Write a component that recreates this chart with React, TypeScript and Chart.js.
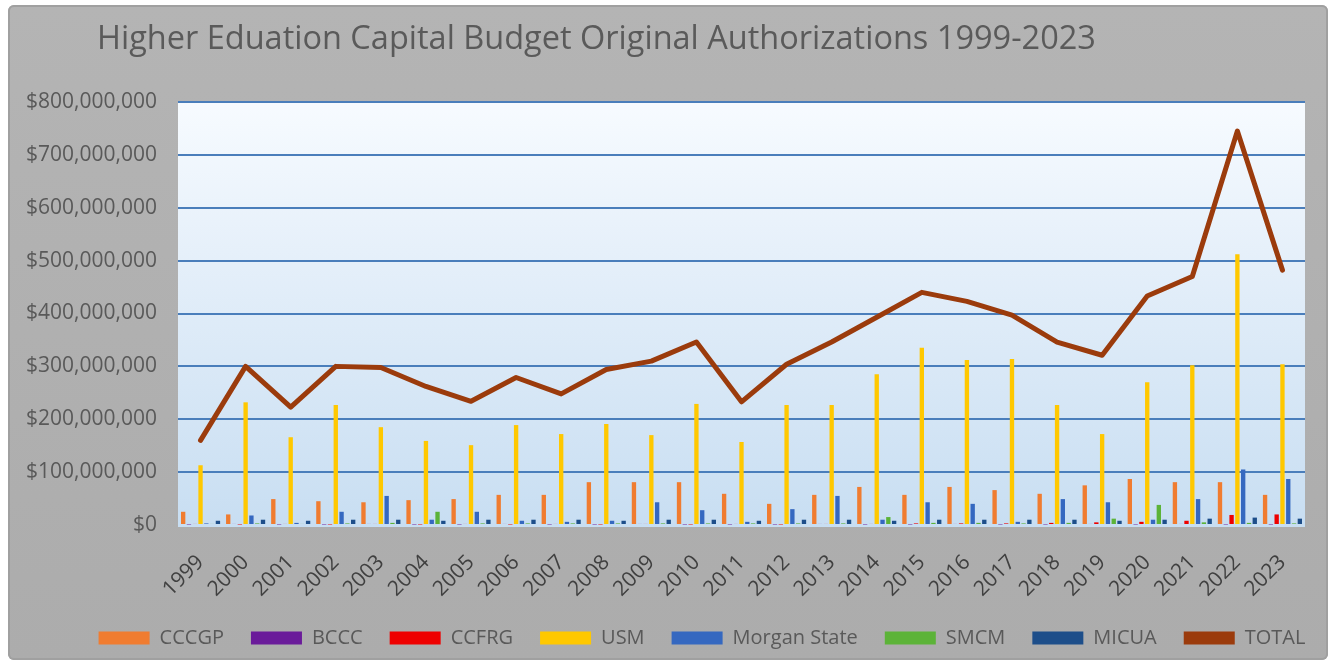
import React, { useEffect, useRef } from "react";
import { Chart, registerables } from "chart.js";

Chart.register(...registerables);

const TITLE = "Higher Eduation Capital Budget Original Authorizations 1999-2023";

const years = [
  "1999", "2000", "2001", "2002", "2003", "2004", "2005", "2006", "2007", "2008",
  "2009", "2010", "2011", "2012", "2013", "2014", "2015", "2016", "2017", "2018",
  "2019", "2020", "2021", "2022", "2023",
];

// values in millions of dollars
const cccgp = [25, 20, 49, 45, 43, 47, 49, 57, 57, 81, 81, 81, 59, 40, 57, 72, 57, 72, 66, 59, 75, 87, 81, 81, 57];
const bccc = [1, 2, 1, 1, 2, 1, 1, 2, 1, 1, 2, 1, 1, 1, 2, 1, 1, 2, 1, 1, 2, 1, 2, 1, 1];
const ccfrg = [2, 1, 2, 1, 2, 1, 2, 1, 2, 1, 2, 1, 2, 1, 2, 2, 3, 3, 3, 4, 5, 6, 8, 19, 20];
const usm = [113, 232, 166, 227, 185, 159, 151, 189, 172, 191, 170, 229, 157, 227, 227, 285, 335, 312, 314, 227, 172, 270, 302, 512, 304];
const morganState = [3, 18, 4, 25, 55, 10, 25, 8, 6, 8, 43, 28, 6, 30, 55, 10, 43, 40, 6, 49, 43, 10, 49, 105, 87];
const smcm = [2, 3, 2, 3, 4, 25, 3, 3, 3, 3, 3, 3, 3, 3, 3, 15, 4, 4, 3, 4, 12, 38, 5, 4, 3];
const micua = [8, 10, 8, 10, 10, 8, 10, 10, 10, 8, 10, 10, 8, 10, 10, 8, 10, 10, 10, 10, 8, 10, 12, 14, 12];
const total = [160, 300, 223, 300, 298, 262, 234, 279, 248, 294, 310, 346, 233, 304, 346, 393, 440, 423, 397, 346, 321, 433, 470, 745, 482];

const yMax = 800000000;
const yStep = 100000000;

const M = (arr: number[]) => arr.map((v) => v * 1000000);

const FONT = "'Open Sans', 'DejaVu Sans', sans-serif";

const plotBg = {
  id: "plotBg",
  afterLayout(chart: any) {
    // let y labels extend left, place title and legend like the reference
    if (chart.scales.y) chart.scales.y.left = 0;
    if (chart.titleBlock) {
      chart.titleBlock.left = 89;
    }
    if (chart.legend) {
      chart.legend.left += 37;
      chart.legend.right += 37;
    }
  },
  beforeDraw(chart: any) {
    const { ctx, chartArea } = chart;
    if (!chartArea) return;
    const g = ctx.createLinearGradient(0, chartArea.top, 0, chartArea.bottom);
    g.addColorStop(0, "#f7fbff");
    g.addColorStop(0.35, "#e6f0fa");
    g.addColorStop(1, "#c8def2");
    ctx.save();
    ctx.fillStyle = g;
    ctx.fillRect(chartArea.left, chartArea.top, chartArea.right - chartArea.left, chartArea.bottom - chartArea.top + 2);
    ctx.restore();
  },
};

export default function App() {
  const ref = useRef<HTMLCanvasElement | null>(null);

  useEffect(() => {
    if (!ref.current) return;
    const barCommon = {
      type: "bar" as const,
      order: 1,
      categoryPercentage: 0.9,
      barPercentage: 0.75,
    };
    const chart = new Chart(ref.current, {
      type: "bar",
      data: {
        labels: years,
        datasets: [
          { ...barCommon, label: "CCCGP", data: M(cccgp), backgroundColor: "#f07c30" },
          { ...barCommon, label: "BCCC", data: M(bccc), backgroundColor: "#6a1b9a" },
          { ...barCommon, label: "CCFRG", data: M(ccfrg), backgroundColor: "#ee0000" },
          { ...barCommon, label: "USM", data: M(usm), backgroundColor: "#ffc800" },
          { ...barCommon, label: "Morgan State", data: M(morganState), backgroundColor: "#3568c0" },
          { ...barCommon, label: "SMCM", data: M(smcm), backgroundColor: "#5cb338" },
          { ...barCommon, label: "MICUA", data: M(micua), backgroundColor: "#1d4e8a" },
          {
            type: "line" as const,
            order: 0,
            label: "TOTAL",
            data: M(total),
            borderColor: "#9b3b0c",
            backgroundColor: "#9b3b0c",
            borderWidth: 5,
            pointRadius: 0,
            tension: 0,
            borderJoinStyle: "round",
            borderCapStyle: "round",
          } as any,
        ],
      },
      options: {
        responsive: false,
        animation: false,
        layout: { padding: { left: 17, right: 23, top: 0, bottom: 2 } },
        plugins: {
          tooltip: { enabled: false },
          title: {
            display: true,
            text: TITLE,
            align: "start",
            color: "#5a5a5a",
            font: { family: FONT, size: 32.5, weight: "normal" },
            padding: { top: 15, bottom: 43 },
          },
          legend: {
            position: "bottom",
            labels: {
              color: "#595959",
              font: { family: FONT, size: 20 },
              boxWidth: 51,
              boxHeight: 13,
              padding: 27,
              sort: (a: any, b: any) => a.datasetIndex - b.datasetIndex,
              generateLabels: (ch: any) => {
                const items = (Chart.defaults.plugins.legend.labels as any).generateLabels(ch);
                return items.map((it: any) => ({ ...it, lineWidth: 0 }));
              },
            },
          },
        },
        scales: {
          x: {
            grid: { display: false },
            border: { display: false },
            ticks: {
              color: "#404040",
              font: { family: FONT, size: 21 },
              minRotation: 45,
              maxRotation: 45,
              autoSkip: false,
              padding: 17,
            },
            afterFit: (s: any) => {
              s.height = 76;
            },
          },
          y: {
            min: 0,
            max: yMax,
            border: { display: false },
            grid: {
              drawTicks: false,
              lineWidth: 2,
              color: (c: any) => (c.tick && c.tick.value === 0 ? "rgba(0,0,0,0)" : "#4a7ebb"),
            },
            ticks: {
              stepSize: yStep,
              color: "#595959",
              font: { family: FONT, size: 21 },
              padding: 21,
              callback: (v: any) => "$" + Number(v).toLocaleString("en-US"),
            },
            afterFit: (s: any) => {
              s.width = 153;
            },
          },
        },
      },
      plugins: [plotBg],
    });
    return () => chart.destroy();
  }, []);

  return (
    <div style={{ position: "absolute", left: 0, top: 0, width: 1336, height: 667, background: "#ffffff", overflow: "hidden" }}>
      <div
        style={{
          position: "absolute",
          left: 8,
          top: 5,
          width: 1320,
          height: 655,
          background: "linear-gradient(#b4b4b4, #acacac)",
          borderRadius: 6,
          boxShadow: "inset 0 0 0 2px #a0a0a0",
        }}
      >
        <canvas ref={ref} width={1320} height={655} style={{ display: "block" }} />
      </div>
    </div>
  );
}
